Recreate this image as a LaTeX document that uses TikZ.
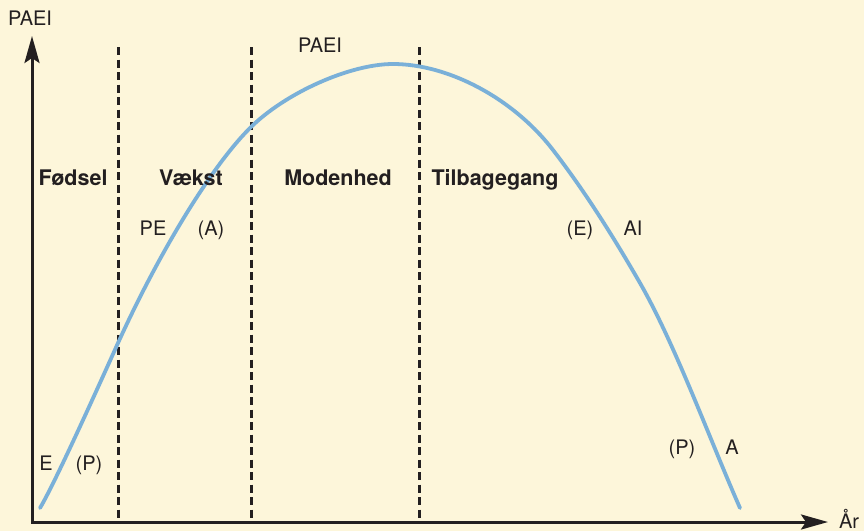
\documentclass[tikz,border=0pt]{standalone}
\usepackage{fontspec}
\setmainfont{TeX Gyre Heros}
\usepackage{tikz}
\usetikzlibrary{arrows.meta}
\definecolor{bgyellow}{RGB}{253,246,218}
\definecolor{curveblue}{RGB}{122,176,216}
\definecolor{inkgray}{RGB}{35,31,32}
\tikzset{axis/.style={{Stealth[length=27pt,width=15pt,inset=5pt]}-{Stealth[length=27pt,width=15pt,inset=5pt]},line width=3pt,draw=inkgray},
  phase/.style={line width=3pt,draw=inkgray,dash pattern=on 8pt off 4.5pt},
  lifecurve/.style={line width=3.8pt,draw=curveblue,line cap=round},
  lbl/.style={anchor=base,text=inkgray,inner sep=0pt},
  stage/.style={lbl,font=\fontsize{21.5}{24}\selectfont\bfseries}}

\begin{document}
\begin{tikzpicture}[x=1pt,y=-1pt,font=\fontsize{20}{23}\selectfont]
\fill[bgyellow] (0,0) rectangle (864,531);
\coordinate (O) at (32,522); \coordinate (ytop) at (32,36); \coordinate (xend) at (828,522);
\draw[axis] (ytop) -- (O) -- (xend);
\node[lbl] (ylab) at (30,25) {PAEI};
\node[lbl] (xlab) at (849,528) {År};
\foreach \x/\n in {118/a,251/b,419/c}
  \draw[phase] (\x,47) coordinate (top\n) -- (\x,522) coordinate (bot\n);
\coordinate (start) at (40,508); \coordinate (top) at (393,64); \coordinate (end) at (740,508);
\draw[lifecurve] (start) .. controls (55,483) and (100,383) .. (118,343)
  .. controls (158,255) and (210,168) .. (250,128)
  .. controls (285,93) and (350,64) .. (top)
  .. controls (448,64) and (513,98) .. (553,150)
  .. controls (583,189) and (610,231) .. (640,283)
  .. controls (675,344) and (710,440) .. (end);
\node[lbl] (peak) at (320,52) {PAEI};
\node[stage] (birth) at (73,185) {Fødsel};
\node[stage] (growth) at (191,185) {Vækst};
\node[stage] (mature) at (338,185) {Modenhed};
\node[stage] (decline) at (495,185) {Tilbagegang};
\node[lbl] (e1) at (46,470) {E};
\node[lbl] (p1) at (89,470) {(P)};
\node[lbl] (pe) at (153,235) {PE};
\node[lbl] (a1) at (211,235) {(A)};
\node[lbl] (e2) at (580,235) {(E)};
\node[lbl] (ai) at (633,235) {AI};
\node[lbl] (p2) at (682,454) {(P)};
\node[lbl] (a2) at (732,454) {A};
\end{tikzpicture}
\end{document}
